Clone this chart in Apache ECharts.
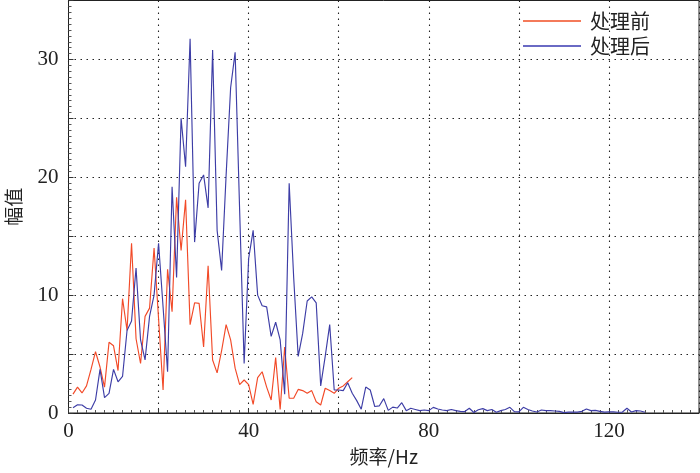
<!DOCTYPE html>
<html>
<head>
<meta charset="utf-8">
<script src="https://cdn.jsdelivr.net/npm/echarts@6/dist/echarts.min.js"></script>
<style>html,body{margin:0;padding:0;background:#fff}#c{width:700px;height:473px}</style>
</head>
<body>
<div id="c"></div>
<script>
// Frequency samples start at 1 Hz with a 1 Hz step
const seriesNames = ['处理前', '处理后'];
const xTickLabels = [0, 40, 80, 120];
const yTickLabels = [0, 10, 20, 30];
const before = [1.6,2.2,1.7,2.3,3.7,5.2,3.9,2.2,6.0,5.7,3.6,9.7,7.0,14.4,6.3,4.2,8.2,8.9,14.0,8.0,
  1.95,12.2,8.6,18.3,13.8,18.1,7.5,9.35,9.3,5.6,12.5,4.5,3.4,5.3,7.5,6.2,3.8,2.4,2.8,2.4,
  0.73,3.0,3.5,2.2,1.1,4.7,0.3,5.6,1.25,1.25,2.0,1.9,1.67,1.9,0.96,0.68,2.1,1.9,1.67,2.1,
  2.3,2.65,3.0];
const after = [0.45,0.7,0.68,0.4,0.32,1.1,3.7,1.3,1.67,3.7,2.65,3.1,7.0,7.8,12.3,6.2,4.5,8.2,10.0,14.4,
  9.0,3.5,19.2,11.5,25.0,20.9,31.75,14.5,19.5,20.2,17.4,30.8,15.5,12.1,20.2,27.6,30.6,17.2,4.2,13.1,
  15.5,10.0,9.1,9.0,6.5,7.7,6.2,1.6,19.5,11.5,4.8,6.75,9.5,9.85,9.35,2.3,4.8,7.5,1.95,1.95,
  1.9,2.57,1.67,1.05,0.32,2.2,1.95,0.55,0.6,1.22,0.22,0.5,0.42,0.87,0.2,0.4,0.3,0.2,0.25,0.2,
  0.48,0.34,0.25,0.2,0.3,0.2,0.14,0.12,0.4,0.04,0.27,0.37,0.2,0.3,0.06,0.2,0.3,0.48,0.11,0.1,
  0.48,0.3,0.17,0.08,0.25,0.2,0.2,0.17,0.14,0.03,0.08,0.08,0.08,0.14,0.34,0.2,0.22,0.14,0.08,0.1,
  0.1,0.06,0.08,0.4,0.08,0.2,0.17,0.06];
const startHz = 1;
const toPairs = arr => arr.map((v, i) => [startHz + i, v]);

const serif = '"Liberation Serif", "Times New Roman", serif';
const cjk = '"Noto Sans CJK SC", sans-serif';
const gridLine = {show: true, lineStyle: {color: '#222', type: [1.5, 4.5], width: 1.1}};
const tick = {show: true, inside: true, length: 5, lineStyle: {color: '#333'}};
const minor = {show: true, splitNumber: 10, length: 3, lineStyle: {color: '#555'}};

const chart = echarts.init(document.getElementById('c'), null, {renderer: 'canvas'});
chart.setOption({
  animation: false,
  backgroundColor: '#fff',
  grid: {left: 68.5, right: 1, top: 0.5, bottom: 60, show: true, borderColor: '#222', borderWidth: 1,
    backgroundColor: 'transparent', containLabel: false, outerBoundsMode: 'none'},
  legend: {
    orient: 'vertical', right: 45, top: 6, itemWidth: 58, itemHeight: 2, itemGap: 5,
    icon: 'rect',
    textStyle: {fontFamily: cjk, fontSize: 20, color: '#222', padding: [0, 0, 0, 4]},
    data: seriesNames
  },
  xAxis: {
    type: 'value', min: 0, max: 140, interval: 20,
    name: '频率/Hz', nameLocation: 'middle', nameGap: 34,
    nameTextStyle: {fontFamily: cjk, fontSize: 19, color: '#222'},
    axisLine: {show: true, onZero: false, lineStyle: {color: '#222', width: 1}},
    axisTick: tick,
    minorTick: minor,
    axisLabel: {fontFamily: serif, fontSize: 21, color: '#222', margin: 8,
      formatter: v => xTickLabels.includes(v) ? String(v) : ''},
    splitLine: gridLine
  },
  yAxis: {
    type: 'value', min: 0, max: 35, interval: 5,
    name: '幅值', nameLocation: 'middle', nameGap: 45, nameRotate: 90,
    nameTextStyle: {fontFamily: cjk, fontSize: 19, color: '#222'},
    axisLine: {show: true, onZero: false, lineStyle: {color: '#222', width: 1}},
    axisTick: tick,
    minorTick: minor,
    axisLabel: {fontFamily: serif, fontSize: 21, color: '#222', margin: 10,
      formatter: v => yTickLabels.includes(v) ? String(v) : ''},
    splitLine: gridLine
  },
  series: [
    {name: seriesNames[0], type: 'line', data: toPairs(before), showSymbol: false, symbol: 'none',
      lineStyle: {color: '#f24a28', width: 1.15}, itemStyle: {color: '#f47a5a'}},
    {name: seriesNames[1], type: 'line', data: toPairs(after), showSymbol: false, symbol: 'none',
      lineStyle: {color: '#3d3da6', width: 1.15}, itemStyle: {color: '#6a6ac4'}}
  ]
});
</script>
</body>
</html>
